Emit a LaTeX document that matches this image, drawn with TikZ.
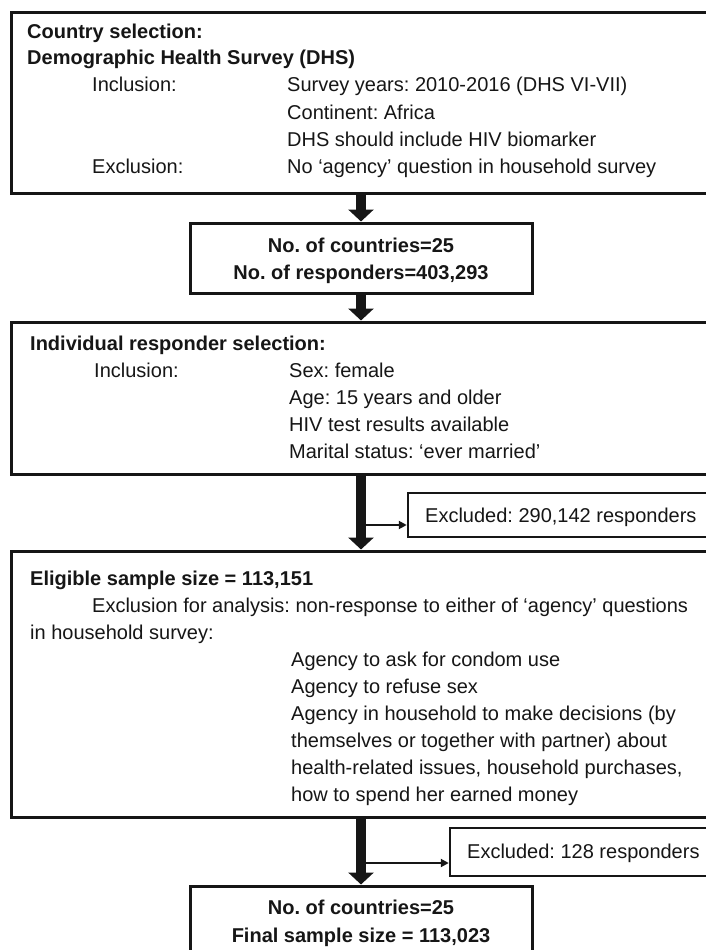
\documentclass[tikz,border=0pt]{standalone}
\usepackage{fontspec}
\setmainfont{Liberation Sans}
\usetikzlibrary{arrows.meta}
\definecolor{ink}{HTML}{161616}
\frenchspacing
\begin{document}
\frenchspacing
\begin{tikzpicture}[x=1pt,y=-1pt,
  box/.style={draw=ink, line width=3pt, rectangle, inner sep=0pt},
  exbox/.style={draw=ink, line width=2.5pt, rectangle, inner sep=0pt},
  txt/.style={anchor=base west, inner sep=0pt, text=ink, font=\fontsize{20}{24}\selectfont},
  btxt/.style={anchor=base west, inner sep=0pt, text=ink, font=\fontsize{20}{24}\selectfont\bfseries},
  ctxt/.style={anchor=base, inner sep=0pt, text=ink, font=\fontsize{20}{24}\selectfont\bfseries},
  bigarrow/.style={draw=ink, line width=10pt, -{Triangle[length=12pt,width=25pt]}},
  sidearrow/.style={draw=ink, line width=2pt, -{Triangle[length=8pt,width=8pt]}}]

\useasboundingbox (0,0) rectangle (705,950);
\fill[white] (0,0) rectangle (705,950);

% boxes
\node[box, minimum width=700pt, minimum height=180pt] (sel) at (361,103) {};
\node[box, minimum width=342pt, minimum height=70pt] (cnt) at (361,258) {};
\node[box, minimum width=700pt, minimum height=152pt] (ind) at (361,398) {};
\node[exbox, minimum width=304pt, minimum height=44pt] (ex1) at (560,515) {};
\node[box, minimum width=700pt, minimum height=266pt] (eli) at (361,684) {};
\node[exbox, minimum width=262pt, minimum height=48pt] (ex2) at (581,852) {};
\node[box, minimum width=342pt, minimum height=90pt] (fin) at (361,931) {};

% top box text
\node[btxt] (s1) at (27,38) {Country selection:};
\node[btxt] (s2) at (27,65) {Demographic Health Survey (DHS)};
\node[txt] (s3) at (92,92) {Inclusion:};
\node[txt] (s4) at (287,92) {Survey years: 2010-2016 (DHS VI-VII)};
\node[txt] (s5) at (287,119) {Continent: Africa};
\node[txt] (s6) at (287,146) {DHS should include HIV biomarker};
\node[txt] (s7) at (92,173) {Exclusion:};
\node[txt] (s8) at (287,173) {No ‘agency’ question in household survey};

% count box
\node[ctxt] (c1) at (361,252) {No. of countries=25};
\node[ctxt] (c2) at (361,279) {No. of responders=403,293};

% individual selection
\node[btxt] (i1) at (30,350) {Individual responder selection:};
\node[txt] (i2) at (94,377) {Inclusion:};
\node[txt] (i3) at (289,377) {Sex: female};
\node[txt] (i4) at (289,404) {Age: 15 years and older};
\node[txt] (i5) at (289,431) {HIV test results available};
\node[txt] (i6) at (289,458) {Marital status: ‘ever married’};

% excluded 1
\node[txt] (e1) at (425,522) {Excluded: 290,142 responders};

% eligible box
\node[btxt] (l1) at (30,585) {Eligible sample size = 113,151};
\node[txt] (l2) at (92,612) {Exclusion for analysis: non-response to either of ‘agency’ questions};
\node[txt] (l3) at (30,639) {in household survey:};
\node[txt] (l4) at (291,666) {Agency to ask for condom use};
\node[txt] (l5) at (291,693) {Agency to refuse sex};
\node[txt] (l6) at (291,720) {Agency in household to make decisions (by};
\node[txt] (l7) at (291,747) {themselves or together with partner) about};
\node[txt] (l8) at (291,774) {health-related issues, household purchases,};
\node[txt] (l9) at (291,801) {how to spend her earned money};

% excluded 2
\node[txt] (e2) at (467,858) {Excluded: 128 responders};

% final box
\node[ctxt] (f1) at (361,914) {No. of countries=25};
\node[ctxt] (f2) at (361,942) {Final sample size = 113,023};

% connectors
\draw[bigarrow] (sel.south) -- (cnt.north);
\draw[bigarrow] (cnt.south) -- (ind.north);
\draw[bigarrow] (ind.south) -- (eli.north);
\draw[bigarrow] (eli.south) -- (fin.north);
\coordinate (j1) at (361,525);
\coordinate (j2) at (361,863);
\draw[sidearrow] (j1) -- (j1 -| ex1.west);
\draw[sidearrow] (j2) -- (j2 -| ex2.west);
\end{tikzpicture}
\end{document}
